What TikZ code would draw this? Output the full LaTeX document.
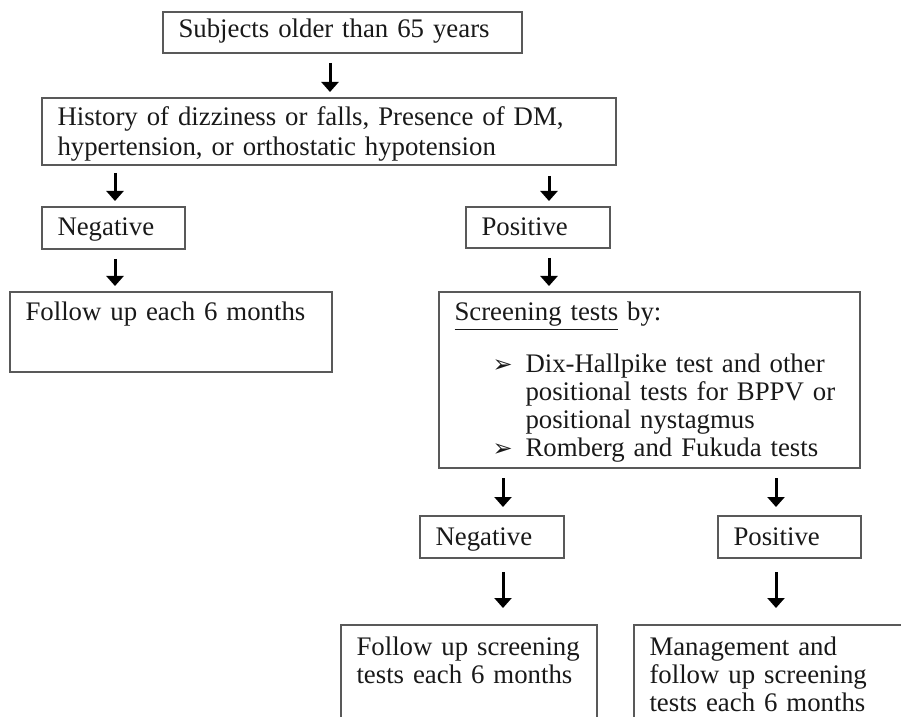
\documentclass[tikz,border=0pt]{standalone}
\usepackage{fontspec}
\setmainfont{Liberation Serif}
\newfontfamily\dejavu{DejaVu Sans}
\usepackage{tikz}
\usetikzlibrary{arrows.meta}
\definecolor{inkgray}{gray}{0.1}
\definecolor{framegray}{gray}{0.35}

\tikzset{
    flowbox/.style={draw=framegray, line width=0.6pt, anchor=north west, align=left,
        inner xsep=7.75pt, inner ysep=0pt, outer sep=0pt, text=inkgray,
        font=\fontsize{13.4pt}{14.1pt}\selectfont},
    flowarrow/.style={draw=black, line width=1.5pt,
        -{Triangle[width=8.5pt, length=5pt]}, shorten <=5pt, shorten >=3pt}
}
\newcommand{\bullarrow}{\makebox[16.5pt][l]{\dejavu\fontsize{12pt}{12pt}\selectfont ➢}}

\begin{document}
\begin{tikzpicture}[x=0.5pt, y=-0.5pt]
                    \useasboundingbox (0, 0) rectangle (901, 717);
                    \clip (0, 0) rectangle (901, 717);

                    \node[flowbox, text width=164pt, text height=13pt, text depth=7.5pt] (subj) at (163, 12) {Subjects older than 65 years};
                    \node[flowbox, text width=271.5pt, text height=14pt, text depth=19.5pt, font=\fontsize{13.4pt}{14.6pt}\selectfont] (hist) at (42, 98) {History of dizziness or falls, Presence of DM,\\hypertension, or orthostatic hypotension};
                    \node[flowbox, text width=56pt, text height=14pt, text depth=7pt] (neg) at (42, 207) {Negative};
                    \node[flowbox, text width=56.5pt, text height=14pt, text depth=6.5pt] (pos) at (466, 207) {Positive};
                    \node[flowbox, text width=145.5pt, text height=14.5pt, text depth=25.5pt] (follow) at (10, 292) {Follow up each 6 months};
                    \node[flowbox, text width=195pt, text height=14.5pt, text depth=73.5pt] (screen) at (439, 292) {\underline{Screening tests} by:\\[10.5pt]
                        \hspace*{19pt}\bullarrow Dix-Hallpike test and other\\
                        \hspace*{35.5pt}positional tests for BPPV or\\
                        \hspace*{35.5pt}positional nystagmus\\
                        \hspace*{19pt}\bullarrow Romberg and Fukuda tests};
                    \node[flowbox, text width=56.5pt, text height=14.5pt, text depth=6.5pt] (negs) at (420, 516) {Negative};
                    \node[flowbox, text width=56pt, text height=14.5pt, text depth=6.5pt] (poss) at (718, 516) {Positive};
                    \node[flowbox, text width=112.5pt, text height=15pt, text depth=80pt] (fupscreen) at (341, 625) {\mbox{Follow up screening}\\tests each 6 months};
                    \node[flowbox, text width=149.5pt, text height=15pt, text depth=80pt] (manage) at (634, 625) {Management and\\follow up screening\\tests each 6 months};

                    \coordinate (colA) at (330, 0);
                    \coordinate (colL) at (115, 0);
                    \coordinate (colR) at (549, 0);
                    \coordinate (colSL) at (503, 0);
                    \coordinate (colSR) at (776, 0);

                    \draw[flowarrow] (subj.south -| colA) -- (hist.north -| colA);
                    \draw[flowarrow, shorten <=4pt] (hist.south -| colL) -- (neg.north -| colL);
                    \draw[flowarrow, shorten <=5.5pt] (hist.south -| colR) -- (pos.north -| colR);
                    \draw[flowarrow] (neg.south -| colL) -- (follow.north -| colL);
                    \draw[flowarrow] (pos.south -| colR) -- (screen.north -| colR);
                    \draw[flowarrow, shorten >=4.5pt] (screen.south -| colSL) -- (negs.north -| colSL);
                    \draw[flowarrow, shorten >=4.5pt] (screen.south -| colSR) -- (poss.north -| colSR);
                    \draw[flowarrow, shorten <=7pt, shorten >=8.5pt] (negs.south -| colSL) -- (fupscreen.north -| colSL);
                    \draw[flowarrow, shorten <=7pt, shorten >=8.5pt] (poss.south -| colSR) -- (manage.north -| colSR);
\end{tikzpicture}
\end{document}
